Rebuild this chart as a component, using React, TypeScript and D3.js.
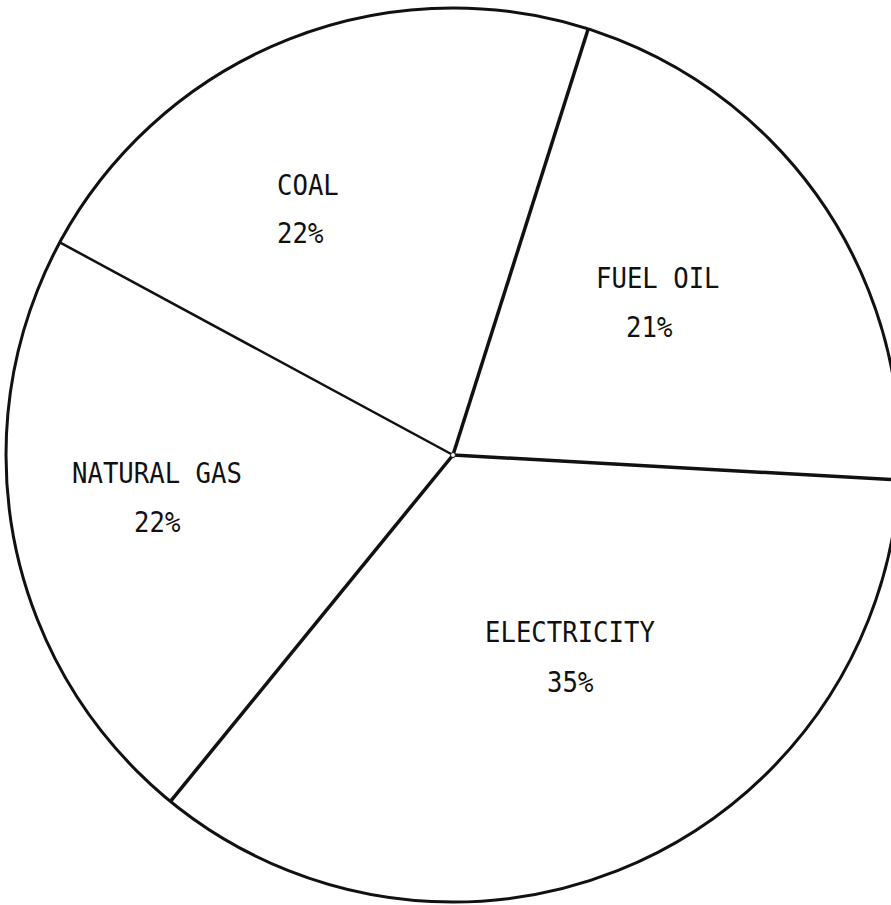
import React from 'react';
import * as d3 from 'd3';

// slices go clockwise, starting just right of 12 o'clock
const categories = ['FUEL OIL', 'ELECTRICITY', 'NATURAL GAS', 'COAL'];
const shares = [21, 35, 22, 22];
const valueLabels = ['21%', '35%', '22%', '22%'];

const width = 891;
const height = 905;
const cx = 453;
const cy = 455;
const radius = 447;
const startDeg = 17.6;

// hand-typed label placement (offset from centre, left edge + baseline)
const labelOffsets: Record<string, [number, number, number, number]> = {
  'FUEL OIL': [143, -167, 173, -118],
  'ELECTRICITY': [32, 187, 94, 237],
  'NATURAL GAS': [-381, 28, -319, 77],
  'COAL': [-176, -260, -176, -212],
};

// the coal / gas divider is drawn lighter than the others
const dividerWidth: Record<string, number> = {
  'FUEL OIL': 3.5,
  'ELECTRICITY': 3.5,
  'NATURAL GAS': 3.5,
  'COAL': 2.5,
};

const App: React.FC = () => {
  const start = (startDeg * Math.PI) / 180;
  const pie = d3.pie<number>()
    .sort(null)
    .value(d => d)
    .startAngle(start)
    .endAngle(start + 2 * Math.PI);
  const arcs = pie(shares);

  const arc = d3.arc<d3.PieArcDatum<number>>()
    .innerRadius(0)
    .outerRadius(radius);

  const font = '"DejaVu Sans Mono", monospace';

  return (
    <svg width={width} height={height}
      style={{ position: 'absolute', left: 0, top: 0, background: '#fff' }}>
      <g transform={`translate(${cx},${cy})`}>
        {arcs.map((a, i) => (
          <path key={categories[i]} d={arc(a) || ''} fill="#fff" stroke="none" />
        ))}
        <circle r={radius} fill="none" stroke="#111" strokeWidth={3} />
        {arcs.map((a, i) => {
          const x = radius * Math.sin(a.startAngle);
          const y = -radius * Math.cos(a.startAngle);
          return (
            <line key={'div' + i} x1={0} y1={0} x2={x} y2={y}
              stroke="#111" strokeWidth={dividerWidth[categories[i]]} />
          );
        })}
        <circle r={2.5} fill="#fff" stroke="#111" strokeWidth={1} />
        {categories.map((c, i) => {
          const [nx, ny, vx, vy] = labelOffsets[c];
          // typewriter face: a touch narrower than DejaVu Mono
          return (
            <g key={'lab' + c} fontFamily={font} fontSize={28.5} fill="#111">
              <text transform={`translate(${nx},${ny}) scale(0.9,1)`} xmlSpace="preserve">{c}</text>
              <text transform={`translate(${vx},${vy}) scale(0.9,1)`}>{valueLabels[i]}</text>
            </g>
          );
        })}
      </g>
    </svg>
  );
};

export default App;
